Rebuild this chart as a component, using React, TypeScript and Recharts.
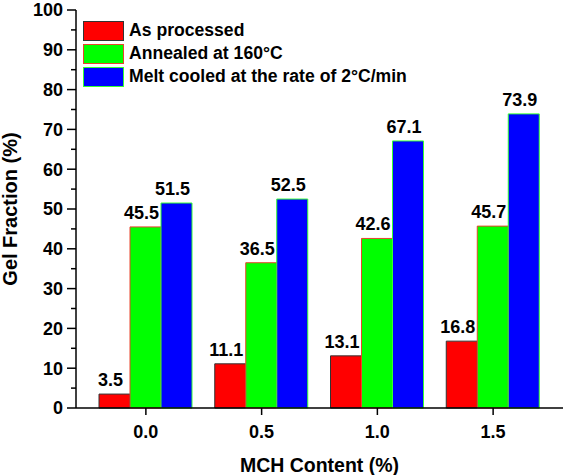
import React from 'react';
import { BarChart, Bar, XAxis, YAxis, LabelList, Legend } from 'recharts';

const categories = ['0.0', '0.5', '1.0', '1.5'];
const asProcessed = [3.5, 11.1, 13.1, 16.8];
const annealed = [45.5, 36.5, 42.6, 45.7];
const meltCooled = [51.5, 52.5, 67.1, 73.9];
const yTicks = [0, 5, 10, 15, 20, 25, 30, 35, 40, 45, 50, 55, 60, 65, 70, 75, 80, 85, 90, 95, 100];

const seriesInfo = [
  { key: 'a', name: 'As processed', fill: '#ff0000', stroke: '#333333' },
  { key: 'b', name: 'Annealed at 160°C', fill: '#00ff00', stroke: '#e8452c' },
  { key: 'c', name: 'Melt cooled at the rate of 2°C/min', fill: '#0000ff', stroke: '#33ff33' },
];

const data = categories.map((c, i) => ({ cat: c, a: asProcessed[i], b: annealed[i], c: meltCooled[i] }));

const FONT = "Arial, 'Liberation Sans', sans-serif";

const YTick = (props: any) => {
  const { x, y, payload } = props;
  const major = payload.value % 10 === 0;
  return (
    <g>
      <line x1={x} x2={x - (major ? 9 : 5)} y1={y} y2={y} stroke="#000" strokeWidth={1.5} />
      {major && (
        <text x={x - 13} y={y} dy="0.36em" textAnchor="end" fontFamily={FONT} fontWeight="bold" fontSize={18} fill="#000">
          {payload.value}
        </text>
      )}
    </g>
  );
};

const XTick = (props: any) => {
  const { x, y, payload } = props;
  return (
    <g>
      <line x1={x} x2={x} y1={y} y2={y + 7} stroke="#000" strokeWidth={1.5} />
      <text x={x} y={y + 30} textAnchor="middle" fontFamily={FONT} fontWeight="bold" fontSize={18} fill="#000">
        {payload.value}
      </text>
    </g>
  );
};

const LegendContent = () => (
  <div style={{ fontFamily: FONT, fontWeight: 'bold', fontSize: 17.6, color: '#000' }}>
    {seriesInfo.map((s) => (
      <div key={s.key} style={{ display: 'flex', alignItems: 'center', height: 23 }}>
        <div style={{ width: 39, height: 18, background: s.fill, border: `1px solid ${s.stroke}`, marginRight: 5 }} />
        <span style={{ whiteSpace: 'nowrap' }}>{s.name}</span>
      </div>
    ))}
  </div>
);

export default function App() {
  return (
    <div style={{ position: 'absolute', left: 0, top: 0, width: 566, height: 475, background: '#fff' }}>
      <BarChart
        width={566}
        height={475}
        data={data}
        margin={{ top: 10, right: 3, bottom: 0, left: 0 }}
        barGap={0}
        barSize={31}
      >
        <XAxis
          dataKey="cat"
          height={67}
          padding={{ left: 12, right: 12 }}
          axisLine={{ stroke: '#000', strokeWidth: 1.5 }}
          tickLine={false}
          tickSize={0}
          tickMargin={0}
          tick={<XTick />}
          interval={0}
          label={{
            value: 'MCH Content (%)',
            position: 'insideBottom',
            offset: 3,
            style: { fontFamily: FONT, fontWeight: 'bold', fontSize: 19.5, fill: '#000' },
          }}
        />
        <XAxis xAxisId="top" dataKey="cat" orientation="top" height={0} tick={false} tickLine={false} axisLine={{ stroke: '#000', strokeWidth: 1.5 }} />
        <YAxis
          width={76}
          domain={[0, 100]}
          ticks={yTicks}
          interval={0}
          axisLine={{ stroke: '#000', strokeWidth: 1.5 }}
          tickLine={false}
          tickSize={0}
          tickMargin={0}
          tick={<YTick />}
          label={{
            value: 'Gel Fraction (%)',
            angle: -90,
            position: 'insideLeft',
            offset: 10,
            style: { textAnchor: 'middle', fontFamily: FONT, fontWeight: 'bold', fontSize: 20, fill: '#000' },
          }}
        />
        <YAxis yAxisId="right" orientation="right" width={0} domain={[0, 100]} tick={false} tickLine={false} axisLine={{ stroke: '#000', strokeWidth: 1.5 }} />
        <Legend
          content={<LegendContent />}
          layout="vertical"
          verticalAlign="middle"
          align="center"
          wrapperStyle={{ left: 83, top: 19, width: 'auto' }}
        />
        {seriesInfo.map((s) => (
          <Bar key={s.key} dataKey={s.key} name={s.name} fill={s.fill} stroke={s.stroke} strokeWidth={1} isAnimationActive={false}>
            <LabelList
              dataKey={s.key}
              position="top"
              offset={8}
              dx={-4}
              style={{ fontFamily: FONT, fontWeight: 'bold', fontSize: 18, fill: '#000' }}
            />
          </Bar>
        ))}
      </BarChart>
    </div>
  );
}
